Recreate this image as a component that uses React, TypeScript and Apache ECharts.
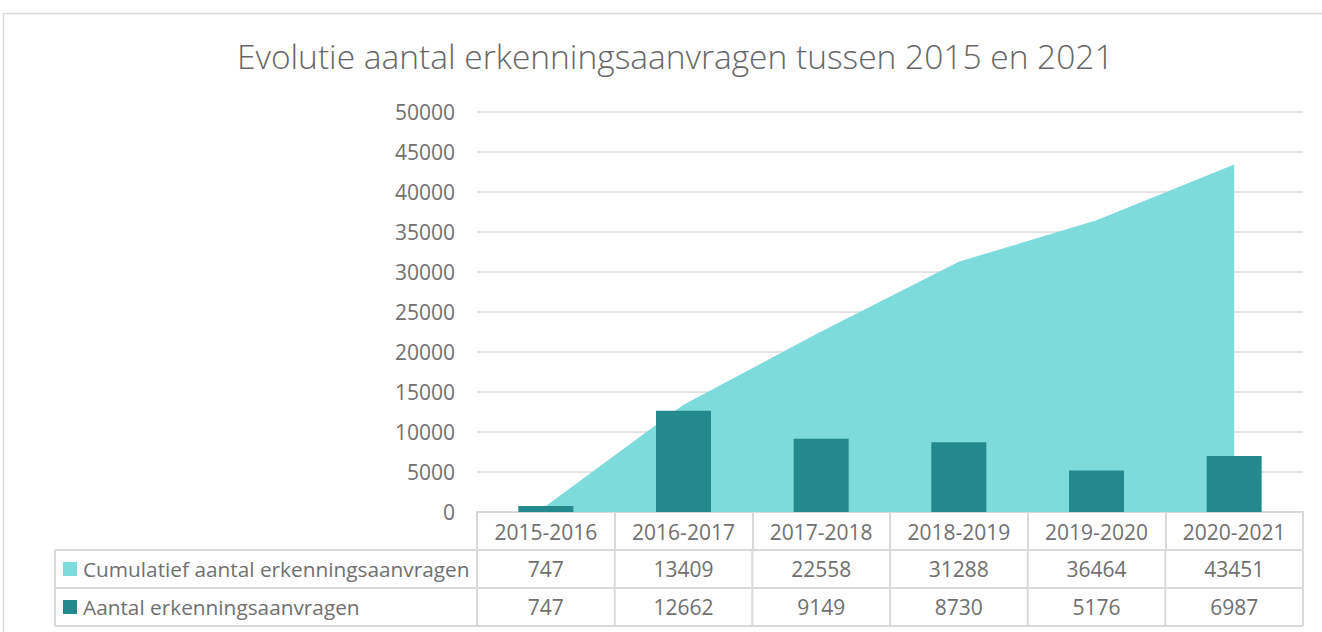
import React, { useEffect, useRef } from "react";
import * as echarts from "echarts";

const categories = ["2015-2016", "2016-2017", "2017-2018", "2018-2019", "2019-2020", "2020-2021"];
const cumulatief = [747, 13409, 22558, 31288, 36464, 43451];
const aantal = [747, 12662, 9149, 8730, 5176, 6987];
const seriesNames = ["Cumulatief aantal erkenningsaanvragen", "Aantal erkenningsaanvragen"];
const titleText = "Evolutie aantal erkenningsaanvragen tussen 2015 en 2021";

const AREA = "#7DDBDC";
const BAR = "#23898C";
const GRID = "#D9D9D9";
const TXT = "#707070";
const FONT = "'Open Sans', sans-serif";

export default function App() {
  const ref = useRef<HTMLDivElement>(null);
  useEffect(() => {
    document.body.style.margin = "0";
    const chart = echarts.init(ref.current!, null, { renderer: "svg" });
    const option: any = {
      animation: false,
      backgroundColor: "#fff",
      textStyle: { fontFamily: FONT },
      title: {
        text: titleText,
        left: 232,
        top: 34,
        textStyle: { fontFamily: FONT, fontSize: 33.5, fontWeight: 300, color: "#666" },
      },
      grid: { left: 477, right: 19, top: 112, bottom: 120 },
      xAxis: {
        type: "category",
        data: categories,
        axisLine: { show: true, lineStyle: { color: GRID, width: 2 } },
        axisTick: { show: true, length: 38, interval: 0, lineStyle: { color: GRID, width: 2 } },
        axisLabel: { color: TXT, fontSize: 21, fontFamily: FONT, margin: 9, interval: 0 },
      },
      yAxis: {
        type: "value",
        min: 0,
        max: 50000,
        interval: 5000,
        axisLine: { show: false },
        axisTick: { show: false },
        axisLabel: { color: TXT, fontSize: 21, fontFamily: FONT, margin: 22, formatter: (v: number) => String(v) },
        splitLine: { lineStyle: { color: GRID, width: 1.5 } },
      },
      series: [
        {
          name: seriesNames[0],
          type: "line",
          data: cumulatief,
          symbol: "none",
          lineStyle: { width: 0 },
          areaStyle: { color: AREA, opacity: 1 },
          z: 2,
        },
        {
          name: seriesNames[1],
          type: "bar",
          data: aantal,
          barWidth: 55,
          itemStyle: { color: BAR },
          z: 3,
        },
      ],
    };
    chart.setOption(option);

    const boundaries: number[] = [];
    const centers: number[] = categories.map((c) => chart.convertToPixel({ xAxisIndex: 0 }, c) as number);
    const step = centers.length > 1 ? centers[1] - centers[0] : 0;
    boundaries.push(centers[0] - step / 2);
    centers.forEach((c) => boundaries.push(c + step / 2));
    const right = boundaries[boundaries.length - 1];
    const rowTops = [550, 588, 626];
    const lineStyle = { stroke: GRID, lineWidth: 2 };
    const els: any[] = [];
    els.push({ type: "rect", shape: { x: 3.5, y: 13.5, width: 1340, height: 640 }, style: { fill: "none", stroke: "#D9D9D9", lineWidth: 1.5 }, silent: true });
    rowTops.forEach((y) => {
      els.push({ type: "line", shape: { x1: 55, y1: y, x2: right, y2: y }, style: lineStyle });
    });
    els.push({ type: "line", shape: { x1: 55, y1: 550, x2: 55, y2: 626 }, style: lineStyle });
    boundaries.forEach((b) => {
      els.push({ type: "line", shape: { x1: b, y1: 550, x2: b, y2: 626 }, style: lineStyle });
    });
    const rows = [cumulatief, aantal];
    const colors = [AREA, BAR];
    rows.forEach((vals, r) => {
      const cy = (rowTops[r] + rowTops[r + 1]) / 2;
      els.push({ type: "rect", shape: { x: 63, y: cy - 7, width: 14, height: 14 }, style: { fill: colors[r] } });
      els.push({
        type: "text",
        x: 83,
        y: cy,
        style: { text: seriesNames[r], fill: TXT, font: `20.8px ${FONT}`, align: "left", verticalAlign: "middle" },
      });
      vals.forEach((v, i) => {
        els.push({
          type: "text",
          x: centers[i],
          y: cy,
          style: { text: String(v), fill: TXT, font: `21px ${FONT}`, align: "center", verticalAlign: "middle" },
        });
      });
    });
    chart.setOption({ graphic: { elements: els } });
    return () => chart.dispose();
  }, []);
  return <div ref={ref} style={{ width: 1322, height: 632 }} />;
}
